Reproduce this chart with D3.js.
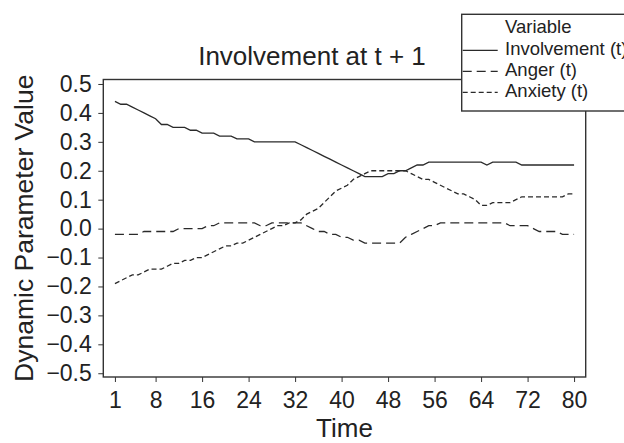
<!DOCTYPE html>
<html>
<head>
<meta charset="utf-8">
<script src="https://cdn.jsdelivr.net/npm/d3@7"></script>
<style>
  body { margin: 0; background: #fff; }
  svg { display: block; font-family: "Liberation Sans", Arial, Helvetica, sans-serif; }
  .axis text { fill: #222; }
  .axis line { stroke: #333; }
</style>
</head>
<body>
<svg id="chart" width="624" height="443"></svg>
<script>
// time points 1..80
var times = d3.range(1, 81);

var involvement = [
  0.44, 0.43, 0.43, 0.42, 0.41, 0.40, 0.39, 0.38, 0.36, 0.36,
  0.35, 0.35, 0.35, 0.34, 0.34, 0.33, 0.33, 0.33, 0.32, 0.32,
  0.32, 0.31, 0.31, 0.31, 0.30, 0.30, 0.30, 0.30, 0.30, 0.30,
  0.30, 0.30, 0.29, 0.28, 0.27, 0.26, 0.25, 0.24, 0.23, 0.22,
  0.21, 0.20, 0.19, 0.18, 0.18, 0.18, 0.18, 0.19, 0.19, 0.20,
  0.20, 0.21, 0.22, 0.22, 0.23, 0.23, 0.23, 0.23, 0.23, 0.23,
  0.23, 0.23, 0.23, 0.23, 0.22, 0.23, 0.23, 0.23, 0.23, 0.23,
  0.22, 0.22, 0.22, 0.22, 0.22, 0.22, 0.22, 0.22, 0.22, 0.22
];

var anger = [
  -0.02, -0.02, -0.02, -0.02, -0.02, -0.01, -0.01, -0.01, -0.01, -0.01,
  -0.01, 0.00, 0.00, 0.00, 0.00, 0.00, 0.01, 0.01, 0.02, 0.02,
  0.02, 0.02, 0.02, 0.02, 0.02, 0.01, 0.01, 0.02, 0.02, 0.02,
  0.02, 0.02, 0.02, 0.01, 0.00, -0.01, -0.01, -0.02, -0.02, -0.03,
  -0.03, -0.04, -0.04, -0.05, -0.05, -0.05, -0.05, -0.05, -0.05, -0.05,
  -0.03, -0.02, -0.01, 0.00, 0.01, 0.01, 0.02, 0.02, 0.02, 0.02,
  0.02, 0.02, 0.02, 0.02, 0.02, 0.02, 0.02, 0.02, 0.01, 0.01,
  0.01, 0.01, 0.00, -0.01, -0.01, -0.01, -0.01, -0.02, -0.02, -0.02
];

var anxiety = [
  -0.19, -0.18, -0.17, -0.16, -0.16, -0.15, -0.14, -0.14, -0.14, -0.13,
  -0.12, -0.12, -0.11, -0.11, -0.10, -0.10, -0.09, -0.08, -0.07, -0.06,
  -0.06, -0.05, -0.05, -0.04, -0.03, -0.02, -0.01, 0.00, 0.01, 0.01,
  0.02, 0.02, 0.03, 0.05, 0.06, 0.07, 0.09, 0.11, 0.13, 0.14,
  0.15, 0.17, 0.18, 0.19, 0.20, 0.20, 0.20, 0.20, 0.20, 0.20,
  0.20, 0.19, 0.18, 0.17, 0.17, 0.16, 0.15, 0.14, 0.13, 0.12,
  0.12, 0.11, 0.10, 0.08, 0.08, 0.09, 0.09, 0.09, 0.09, 0.10,
  0.11, 0.11, 0.11, 0.11, 0.11, 0.11, 0.11, 0.11, 0.12, 0.12
];

var xTicks = [1, 8, 16, 24, 32, 40, 48, 56, 64, 72, 80];
var yTicks = [0.5, 0.4, 0.3, 0.2, 0.1, 0.0, -0.1, -0.2, -0.3, -0.4, -0.5];

var seriesNames = ["Involvement (t)", "Anger (t)", "Anxiety (t)"];
var seriesDash = [null, "9,5", "5,3"];

var series = [involvement, anger, anxiety].map((vals, i) => ({
  name: seriesNames[i],
  dash: seriesDash[i],
  values: vals.map((v, j) => ({ t: times[j], v: v }))
}));

var svg = d3.select("#chart");
var plot = { left: 103.3, right: 585.7, top: 79.5, bottom: 377 };

var xScale = d3.scaleLinear()
               .domain([-1, 82])
               .range([plot.left, plot.right]);

var yScale = d3.scaleLinear()
               .domain([-0.513, 0.5155])
               .range([plot.bottom, plot.top]);

// frame
svg.append("rect")
    .attr("x", plot.left)
    .attr("y", plot.top)
    .attr("width", plot.right - plot.left)
    .attr("height", plot.bottom - plot.top)
    .attr("fill", "none")
    .attr("stroke", "#333")
    .attr("stroke-width", 1.4);

var xAxis = d3.axisBottom(xScale)
              .tickValues(xTicks)
              .tickSize(5)
              .tickPadding(9.5)
              .tickFormat(d3.format("d"));

svg.append("g")
    .classed("axis", true)
    .attr("transform", "translate(0," + plot.bottom + ")")
    .call(xAxis)
    .call(g => g.select(".domain").remove())
    .selectAll("text")
      .attr("font-size", 23)
      .attr("font-family", null);

var yAxis = d3.axisLeft(yScale)
              .tickValues(yTicks)
              .tickSize(5)
              .tickPadding(6.5)
              .tickFormat(d3.format(".1f"));

svg.append("g")
    .classed("axis", true)
    .attr("transform", "translate(" + plot.left + ",0)")
    .call(yAxis)
    .call(g => g.select(".domain").remove())
    .selectAll("text")
      .attr("font-size", 23)
      .attr("font-family", null);

var line = d3.line()
             .x(d => xScale(d.t))
             .y(d => yScale(d.v));

svg.selectAll(".series")
    .data(series)
    .enter()
    .append("path")
      .classed("series", true)
      .attr("d", d => line(d.values))
      .attr("fill", "none")
      .attr("stroke", "#2a2a2a")
      .attr("stroke-width", 1.3)
      .attr("stroke-dasharray", d => d.dash);

// titles
svg.append("text")
    .attr("x", 312)
    .attr("y", 65)
    .attr("text-anchor", "middle")
    .attr("font-size", 26)
    .attr("fill", "#222")
    .text("Involvement at t + 1");

svg.append("text")
    .attr("x", (plot.left + plot.right) / 2)
    .attr("y", 437)
    .attr("text-anchor", "middle")
    .attr("font-size", 26)
    .attr("fill", "#222")
    .text("Time");

svg.append("text")
    .attr("transform", "translate(33," + ((plot.top + plot.bottom) / 2) + ") rotate(-90)")
    .attr("text-anchor", "middle")
    .attr("font-size", 26.5)
    .attr("fill", "#222")
    .text("Dynamic Parameter Value");

// legend, runs off the right edge like the original
var legend = svg.append("g")
                .attr("transform", "translate(461.7,14.3)");

legend.append("rect")
    .attr("width", 220)
    .attr("height", 96.7)
    .attr("fill", "#fff")
    .attr("stroke", "#333")
    .attr("stroke-width", 1.4);

legend.append("text")
    .attr("x", 43.3)
    .attr("y", 19)
    .attr("font-size", 18.5)
    .attr("fill", "#222")
    .text("Variable");

var rows = legend.selectAll(".legend-row")
                 .data(series)
                 .enter()
                 .append("g")
                   .classed("legend-row", true)
                   .attr("transform", (d, i) => "translate(0," + (41 + i * 21) + ")");

rows.append("line")
    .attr("x1", 1)
    .attr("x2", 36)
    .attr("y1", -5)
    .attr("y2", -5)
    .attr("stroke", "#2a2a2a")
    .attr("stroke-width", 1.3)
    .attr("stroke-dasharray", d => d.dash);

rows.append("text")
    .attr("x", 43.3)
    .attr("font-size", 18.5)
    .attr("fill", "#222")
    .text(d => d.name);
</script>
</body>
</html>
